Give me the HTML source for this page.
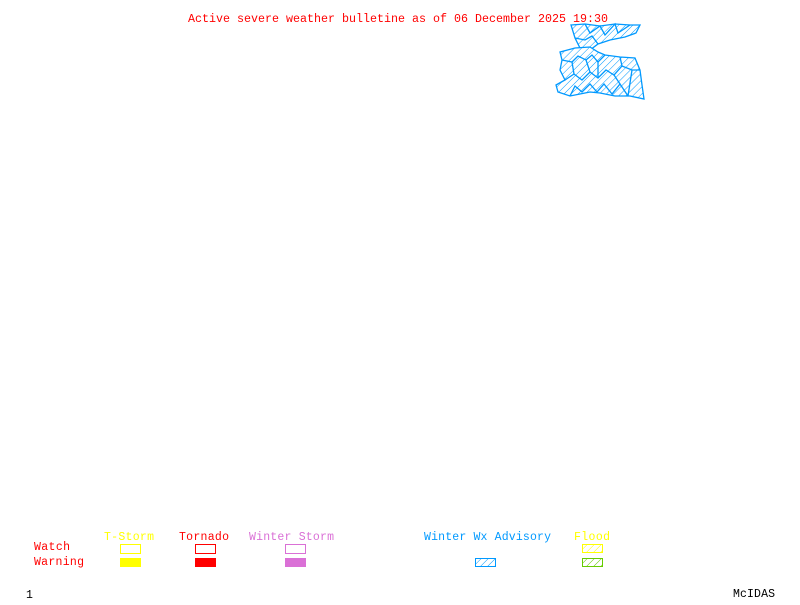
<!DOCTYPE html>
<html><head><style>
html,body{margin:0;padding:0;background:#fff;}
svg text{font-family:"Liberation Mono","DejaVu Sans Mono",monospace;font-size:11.5px;}
</style></head><body>
<svg width="800" height="600" xmlns="http://www.w3.org/2000/svg" shape-rendering="crispEdges">
<defs>
<pattern id="hb" width="5" height="5" patternUnits="userSpaceOnUse" patternTransform="rotate(45)">
<rect width="5" height="5" fill="#fff"/><line x1="0" y1="0" x2="0" y2="5" stroke="#0099ff" stroke-width="1.3"/></pattern>
<pattern id="hy" width="5" height="5" patternUnits="userSpaceOnUse" patternTransform="rotate(45)">
<rect width="5" height="5" fill="#fff"/><line x1="0" y1="0" x2="0" y2="5" stroke="#ffff00" stroke-width="1.2"/></pattern>
<pattern id="hg" width="5" height="5" patternUnits="userSpaceOnUse" patternTransform="rotate(45)">
<rect width="5" height="5" fill="#fff"/><line x1="0" y1="0" x2="0" y2="5" stroke="#66cc00" stroke-width="1.2"/></pattern>
</defs>
<text x="188" y="22" fill="#ff0000" textLength="420" lengthAdjust="spacingAndGlyphs">Active severe weather bulletine as of 06 December 2025 19:30</text>
<g stroke="#0099ff" stroke-width="1.3" fill="url(#hb)" shape-rendering="auto">
<polygon points="571,25 585,24 600,26 615,24 630,25 640,25 636,33 625,37 610,40 598,44 590,50 580,48 575,38"/>
<polygon points="560,52 575,48 590,47 598,52 605,55 620,57 635,58 640,70 642,85 644,99 630,96 615,96 600,93 590,92 580,94 570,96 558,92 556,85 565,80 560,70 562,60"/>
</g>
<g stroke="#0099ff" stroke-width="1.3" fill="none" shape-rendering="auto">
<polyline points="585,24 590,33 600,26 605,35 615,24 618,33 630,25"/>
<polyline points="575,38 585,40 592,36 598,44"/>
<polyline points="562,60 572,62 578,56 586,60 592,55 598,62 605,55"/>
<polyline points="565,80 574,74 582,80 590,72 598,78 606,70 614,75 622,66 632,70 640,70"/>
<polyline points="570,96 575,86 582,92 590,84 597,92 604,84 612,94 620,84 628,96"/>
<polyline points="572,62 574,74"/><polyline points="586,60 590,72"/><polyline points="598,62 598,78"/>
<polyline points="614,75 620,84"/><polyline points="622,66 620,57"/><polyline points="632,70 628,96"/>
</g>
<text x="104" y="540" fill="#ffff00" textLength="50">T-Storm</text>
<text x="179" y="540" fill="#ff0000" textLength="50">Tornado</text>
<text x="249" y="540" fill="#da70d6" textLength="85">Winter Storm</text>
<text x="424" y="540" fill="#0099ff" textLength="127">Winter Wx Advisory</text>
<text x="574" y="540" fill="#ffff00" textLength="36">Flood</text>
<text x="34" y="550" fill="#ff0000" textLength="36">Watch</text>
<text x="34" y="565" fill="#ff0000" textLength="50">Warning</text>
<rect x="120" y="544" width="21" height="10" fill="#ffff00"/><rect x="121" y="545" width="19" height="8" fill="#fff"/>
<rect x="120" y="558" width="21" height="9" fill="#ffff00"/>
<rect x="195" y="544" width="21" height="10" fill="#ff0000"/><rect x="196" y="545" width="19" height="8" fill="#fff"/>
<rect x="195" y="558" width="21" height="9" fill="#ff0000"/>
<rect x="285" y="544" width="21" height="10" fill="#da70d6"/><rect x="286" y="545" width="19" height="8" fill="#fff"/>
<rect x="285" y="558" width="21" height="9" fill="#da70d6"/>
<rect x="475.5" y="558.5" width="20" height="8" fill="url(#hb)" stroke="#0099ff"/>
<rect x="582.5" y="544.5" width="20" height="8" fill="url(#hy)" stroke="#ffff00"/>
<rect x="582.5" y="558.5" width="20" height="8" fill="url(#hg)" stroke="#66cc00"/>
<text x="26" y="598" fill="#000">1</text>
<text x="733" y="597" fill="#000" textLength="42">McIDAS</text>
</svg>
</body></html>
